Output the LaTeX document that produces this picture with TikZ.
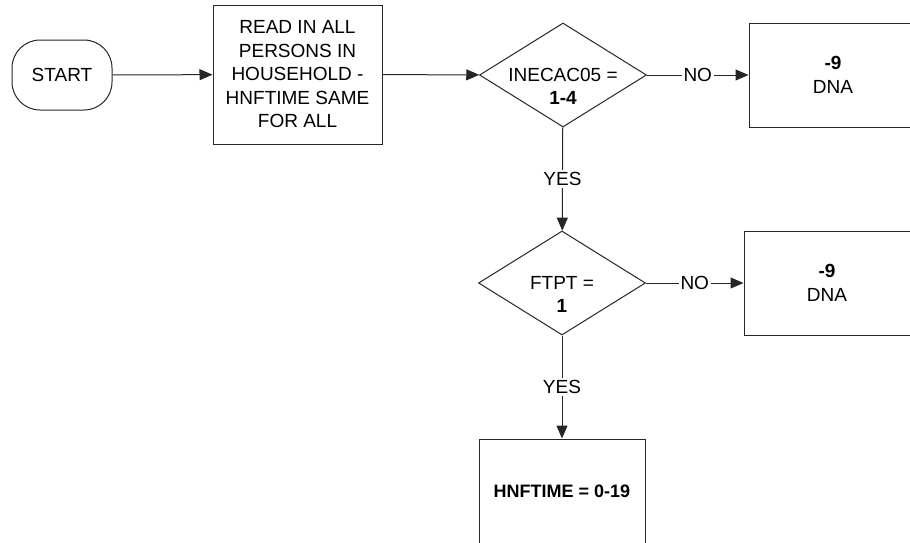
\documentclass[tikz,border=0pt]{standalone}
\usepackage{fontspec}
\setmainfont{Liberation Sans}
\usetikzlibrary{arrows.meta,shapes.geometric}
\begin{document}
\begin{tikzpicture}[x=1pt,y=-1pt,
  every node/.style={font=\fontsize{19}{23.5}\selectfont},
  ln/.style={draw=black!85,line width=1pt},
  box/.style={ln,rectangle,inner sep=0pt,align=center},
  dia/.style={ln,diamond,inner sep=0pt,minimum width=167pt,minimum height=104pt},
  arr/.style={ln,-{Triangle[length=13pt,width=11pt]}},
  lbl/.style={fill=white,inner sep=2pt}]
\useasboundingbox (0,0) rectangle (910,542);
\node[box,rounded corners=28pt,minimum width=100pt,minimum height=70pt] (start) at (62,75) {START};
\node[box,minimum width=169pt,minimum height=139pt] (read) at (297.5,74.5)
  {READ IN ALL\\PERSONS IN\\HOUSEHOLD -\\HNFTIME SAME\\FOR ALL};
\node[dia] (d1) at (563,75) {};
\node[align=center] (t1) at (563,86.5) {INECAC05 =\\\textbf{1-4}};
\node[box,minimum width=168pt,minimum height=104pt] (dna1) at (833,75) {\textbf{-9}\\DNA};
\node[dia] (d2) at (562,283) {};
\node[align=center] (t2) at (562,294.5) {FTPT =\\\textbf{1}};
\node[box,minimum width=166pt,minimum height=104pt] (dna2) at (827,283) {\textbf{-9}\\DNA};
\node[box,minimum width=166pt,minimum height=104pt] (res) at (562,491)
  {\fontsize{18}{22}\selectfont\textbf{HNFTIME = 0-19}};
\draw[arr] (start) -- (read);
\draw[arr] (read) -- (d1);
\draw[arr] (d1) -- node[lbl] (no1) {NO} (dna1);
\draw[arr] (d1) -- node[lbl] (yes1) {YES} (d2);
\draw[arr] (d2) -- node[lbl] (no2) {NO} (dna2);
\draw[arr] (d2) -- node[lbl] (yes2) {YES} (res);
\end{tikzpicture}
\end{document}
